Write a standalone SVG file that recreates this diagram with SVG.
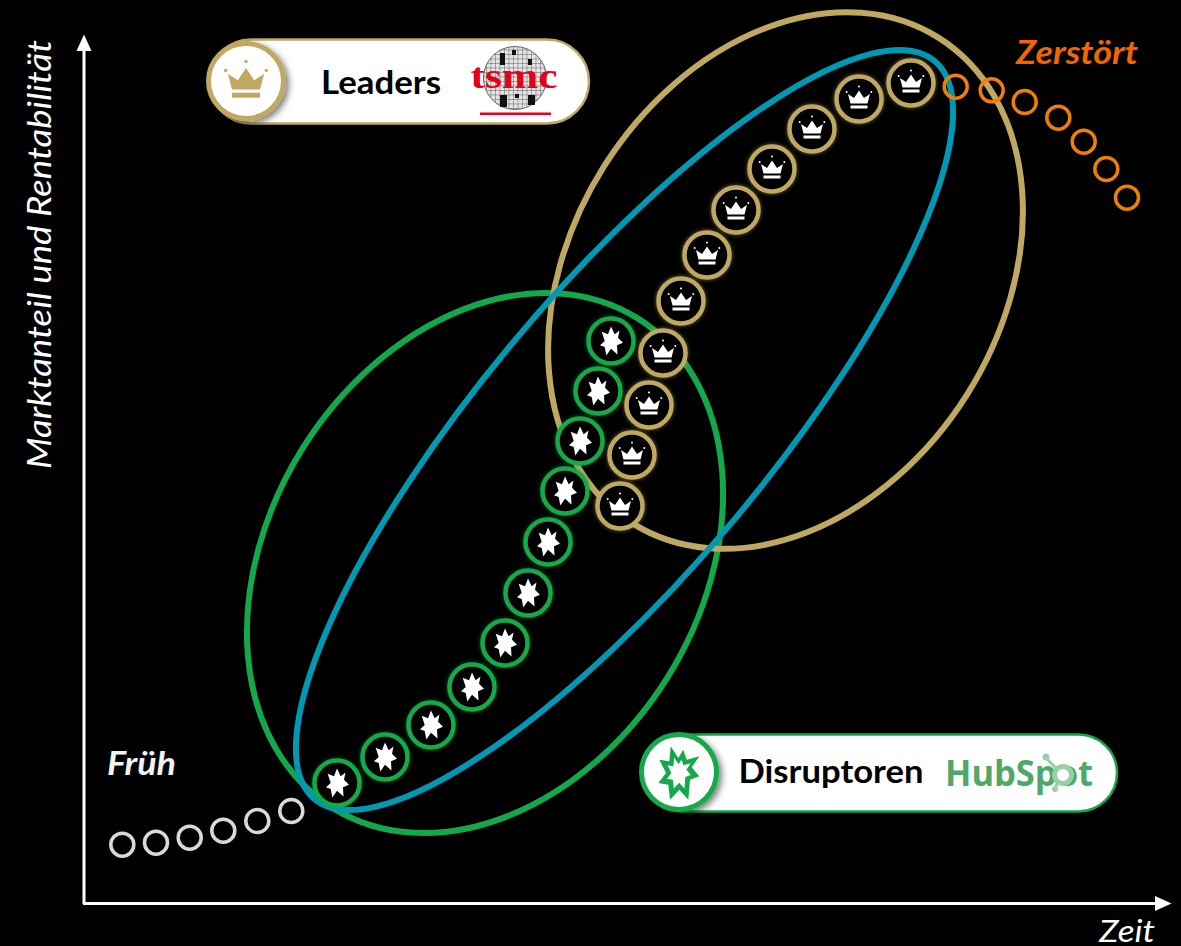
<svg xmlns="http://www.w3.org/2000/svg" width="1181" height="946" viewBox="0 0 1181 946">
<style>
text{font-family:"Lato","Liberation Sans",sans-serif}
.lab{font-style:italic;font-size:32px;fill:#fff}
.tag{font-style:italic;font-weight:700;font-size:32px}
.pt{font-weight:700;font-size:32px;fill:#000}
.loop{fill:none;stroke-width:6}
.lead{fill:#000;stroke:#bfa862;stroke-width:4.5;filter:url(#gg)}
.dis{fill:#000;stroke:#13a84a;stroke-width:4.5;filter:url(#gn)}
.o{fill:none;stroke:#ee7f06;stroke-width:3.5}
.g{fill:none;stroke:#d9d9d9;stroke-width:3.5}
.ax{stroke:#fff;stroke-width:3;fill:none}
</style>
<defs>
<filter id="gg" x="-30%" y="-30%" width="160%" height="160%"><feDropShadow dx="0" dy="0" stdDeviation="2" flood-color="#bfa862" flood-opacity=".6"/></filter>
<filter id="gn" x="-30%" y="-30%" width="160%" height="160%"><feDropShadow dx="0" dy="0" stdDeviation="2" flood-color="#13a84a" flood-opacity=".6"/></filter>
<filter id="sh" x="-30%" y="-30%" width="160%" height="160%"><feDropShadow dx="3" dy="3" stdDeviation="3" flood-color="#000" flood-opacity=".5"/></filter>
<g id="c">
<path d="M-8.500 4.500L-11 -5L-5 -1L0 -8.500L5 -1L11 -5L8.500 4.500Z"/>
<rect x="-8.500" y="6.500" width="17" height="3"/>
<circle cx="0" cy="-12.500" r="1"/><circle cx="-12.300" cy="-7" r="1"/><circle cx="12.300" cy="-7" r="1"/>
</g>
<path id="burst" d="M0 -14.500L3.700 -6.700L8.500 -10.500L7 -3.300L12 1.700L6 4.300L6.500 13.500L0 7.700L-4.700 14.500L-6.300 6L-11 4.300L-6.300 0L-9.300 -9.300L-3 -6.700Z"/>
<path id="bigburst" d="M-8.300 -26.700L-0.700 -15L4.300 -23.300L7.700 -13.300L20.300 -16.700L12.700 -5.700L20.300 3.300L11 6.700L9.300 26.700L0.300 16.700L-9 26.700L-10.700 11.700L-20.700 10L-13 0L-19.700 -13.300L-9.700 -11.700Z"/>
<pattern id="grid" width="4.500" height="4.500" patternUnits="userSpaceOnUse"><rect width="4.500" height="4.500" fill="#e4e4e4"/><path d="M0 0H4.500M0 0V4.500" stroke="#444" stroke-width=".8" fill="none"/></pattern>
<marker id="ah" markerWidth="6" markerHeight="6" refX="1" refY="3" orient="auto"><path d="M0 0.500L5.500 3L0 5.500Z" fill="#fff"/></marker>
</defs>
<rect id="background" width="1181" height="946" fill="#000"/>
<g id="connectors">
<path id="y-axis" class="ax" d="M84 904V48" marker-end="url(#ah)"/>
<path id="x-axis" class="ax" d="M83 903.500H1158" marker-end="url(#ah)"/>
</g>
<g id="loops">
<ellipse id="loop-green" class="loop" stroke="#13a84a" cx="485" cy="563" rx="288.400" ry="215.400" transform="rotate(-58.100 485 563)"/>
<ellipse id="loop-gold" class="loop" stroke="#bfa862" cx="785.500" cy="280.500" rx="287" ry="214.400" transform="rotate(-57.700 785.500 280.500)"/>
<ellipse id="loop-blue" class="loop" stroke="#0098b3" cx="624.500" cy="430" rx="482" ry="141.700" transform="rotate(-49.950 624.500 430)"/>
</g>
<g id="early-points">
<circle class="g" cx="122.300" cy="844.700" r="11.500"/><circle class="g" cx="156" cy="842.700" r="11.500"/><circle class="g" cx="189.700" cy="837.700" r="11.500"/><circle class="g" cx="223.300" cy="830.700" r="11.500"/><circle class="g" cx="257.300" cy="821" r="11.500"/><circle class="g" cx="291.300" cy="811" r="11.500"/>
</g>
<g id="destroyed-points">
<circle class="o" cx="955.700" cy="86.700" r="11.500"/><circle class="o" cx="991.700" cy="90.300" r="11.500"/><circle class="o" cx="1024.700" cy="102" r="11.500"/><circle class="o" cx="1058.300" cy="117.700" r="11.500"/><circle class="o" cx="1083.700" cy="141.700" r="11.500"/><circle class="o" cx="1106.300" cy="169" r="11.500"/><circle class="o" cx="1127" cy="197.700" r="11.500"/>
</g>
<g id="disruptor-points" fill="#fff">
<g transform="translate(611 341)"><circle class="dis" r="22.500"/><use href="#burst"/></g>
<g transform="translate(598 391)"><circle class="dis" r="22.500"/><use href="#burst"/></g>
<g transform="translate(580 441)"><circle class="dis" r="22.500"/><use href="#burst"/></g>
<g transform="translate(565 491)"><circle class="dis" r="22.500"/><use href="#burst"/></g>
<g transform="translate(548 542)"><circle class="dis" r="22.500"/><use href="#burst"/></g>
<g transform="translate(528 593)"><circle class="dis" r="22.500"/><use href="#burst"/></g>
<g transform="translate(505 643)"><circle class="dis" r="22.500"/><use href="#burst"/></g>
<g transform="translate(472 687)"><circle class="dis" r="22.500"/><use href="#burst"/></g>
<g transform="translate(431 725)"><circle class="dis" r="22.500"/><use href="#burst"/></g>
<g transform="translate(385 757)"><circle class="dis" r="22.500"/><use href="#burst"/></g>
<g transform="translate(337 783)"><circle class="dis" r="22.500"/><use href="#burst"/></g>
</g>
<g id="leader-points" fill="#fff">
<g transform="translate(911 83)"><circle class="lead" r="22.500"/><use href="#c"/></g>
<g transform="translate(859 99)"><circle class="lead" r="22.500"/><use href="#c"/></g>
<g transform="translate(812 129)"><circle class="lead" r="22.500"/><use href="#c"/></g>
<g transform="translate(772 169)"><circle class="lead" r="22.500"/><use href="#c"/></g>
<g transform="translate(736 210)"><circle class="lead" r="22.500"/><use href="#c"/></g>
<g transform="translate(707 255)"><circle class="lead" r="22.500"/><use href="#c"/></g>
<g transform="translate(681 301)"><circle class="lead" r="22.500"/><use href="#c"/></g>
<g transform="translate(663 353)"><circle class="lead" r="22.500"/><use href="#c"/></g>
<g transform="translate(649 405)"><circle class="lead" r="22.500"/><use href="#c"/></g>
<g transform="translate(632 455)"><circle class="lead" r="22.500"/><use href="#c"/></g>
<g transform="translate(620 506)"><circle class="lead" r="22.500"/><use href="#c"/></g>
</g>
<g id="legend-leaders">
<rect x="209" y="39.500" width="380" height="84" rx="42" fill="#fff" stroke="#bfa862" stroke-width="2.500"/>
<circle cx="246" cy="81" r="37.500" fill="#fff" stroke="#bfa862" stroke-width="5" filter="url(#sh)"/>
<use href="#c" fill="#bfa862" transform="translate(246 82) scale(1.650)"/>
<text class="pt" x="381" y="94" text-anchor="middle" textLength="120" lengthAdjust="spacingAndGlyphs">Leaders</text>
<circle cx="515" cy="78" r="31.500" fill="url(#grid)" stroke="#666"/>
<g fill="#111"><rect x="500" y="53" width="5" height="12"/><rect x="512" y="50" width="4" height="5"/><rect x="528" y="59" width="4" height="6"/><rect x="500" y="95" width="7" height="12"/><rect x="515" y="94" width="4" height="4"/><rect x="528" y="95" width="7" height="10"/></g>
<text x="514" y="88" text-anchor="middle" textLength="87" lengthAdjust="spacingAndGlyphs" style="font-family:'Liberation Serif',serif;font-weight:700;font-size:36px;fill:#e2001a">tsmc</text>
<rect x="480" y="112.500" width="71" height="2.500" fill="#e2001a"/>
</g>
<g id="legend-disruptors">
<rect x="642" y="734.500" width="475" height="77" rx="38.500" fill="#fff" stroke="#13a84a" stroke-width="2.500"/>
<circle cx="679" cy="772" r="37.500" fill="#fff" stroke="#13a84a" stroke-width="5" filter="url(#sh)"/>
<use href="#bigburst" transform="translate(679 773)" fill="#13a84a"/>
<use href="#bigburst" transform="translate(679 773) scale(.58)" fill="#fff"/>
<text class="pt" x="831" y="783" text-anchor="middle" textLength="185" lengthAdjust="spacingAndGlyphs">Disruptoren</text>
<text x="1019" y="786" text-anchor="middle" textLength="148" lengthAdjust="spacingAndGlyphs" style="font-family:'Open Sans',sans-serif;font-weight:700;font-size:36px;fill:#4fa868">HubSpot</text>
<g stroke="#9ad0a5" stroke-width="3" fill="none"><circle cx="1063" cy="775" r="8.500" fill="#fff" stroke-width="5"/><path d="M1057 769L1046 758M1058 782L1055 788"/><circle cx="1046" cy="757" r="3.500" fill="#9ad0a5" stroke="none"/><circle cx="1055" cy="789" r="3" fill="#9ad0a5" stroke="none"/></g>
</g>
<g id="labels">
<text class="lab" transform="translate(51 469) rotate(-90)" textLength="429" lengthAdjust="spacingAndGlyphs">Marktanteil und Rentabilität</text>
<text class="lab" x="1099" y="942" textLength="56" lengthAdjust="spacingAndGlyphs" style="font-size:30px">Zeit</text>
<text class="tag" x="107" y="775" fill="#f2f2f2" textLength="69" lengthAdjust="spacingAndGlyphs">Früh</text>
<text class="tag" x="1016" y="64" fill="#f26500" textLength="122" lengthAdjust="spacingAndGlyphs">Zerstört</text>
</g>
</svg>
